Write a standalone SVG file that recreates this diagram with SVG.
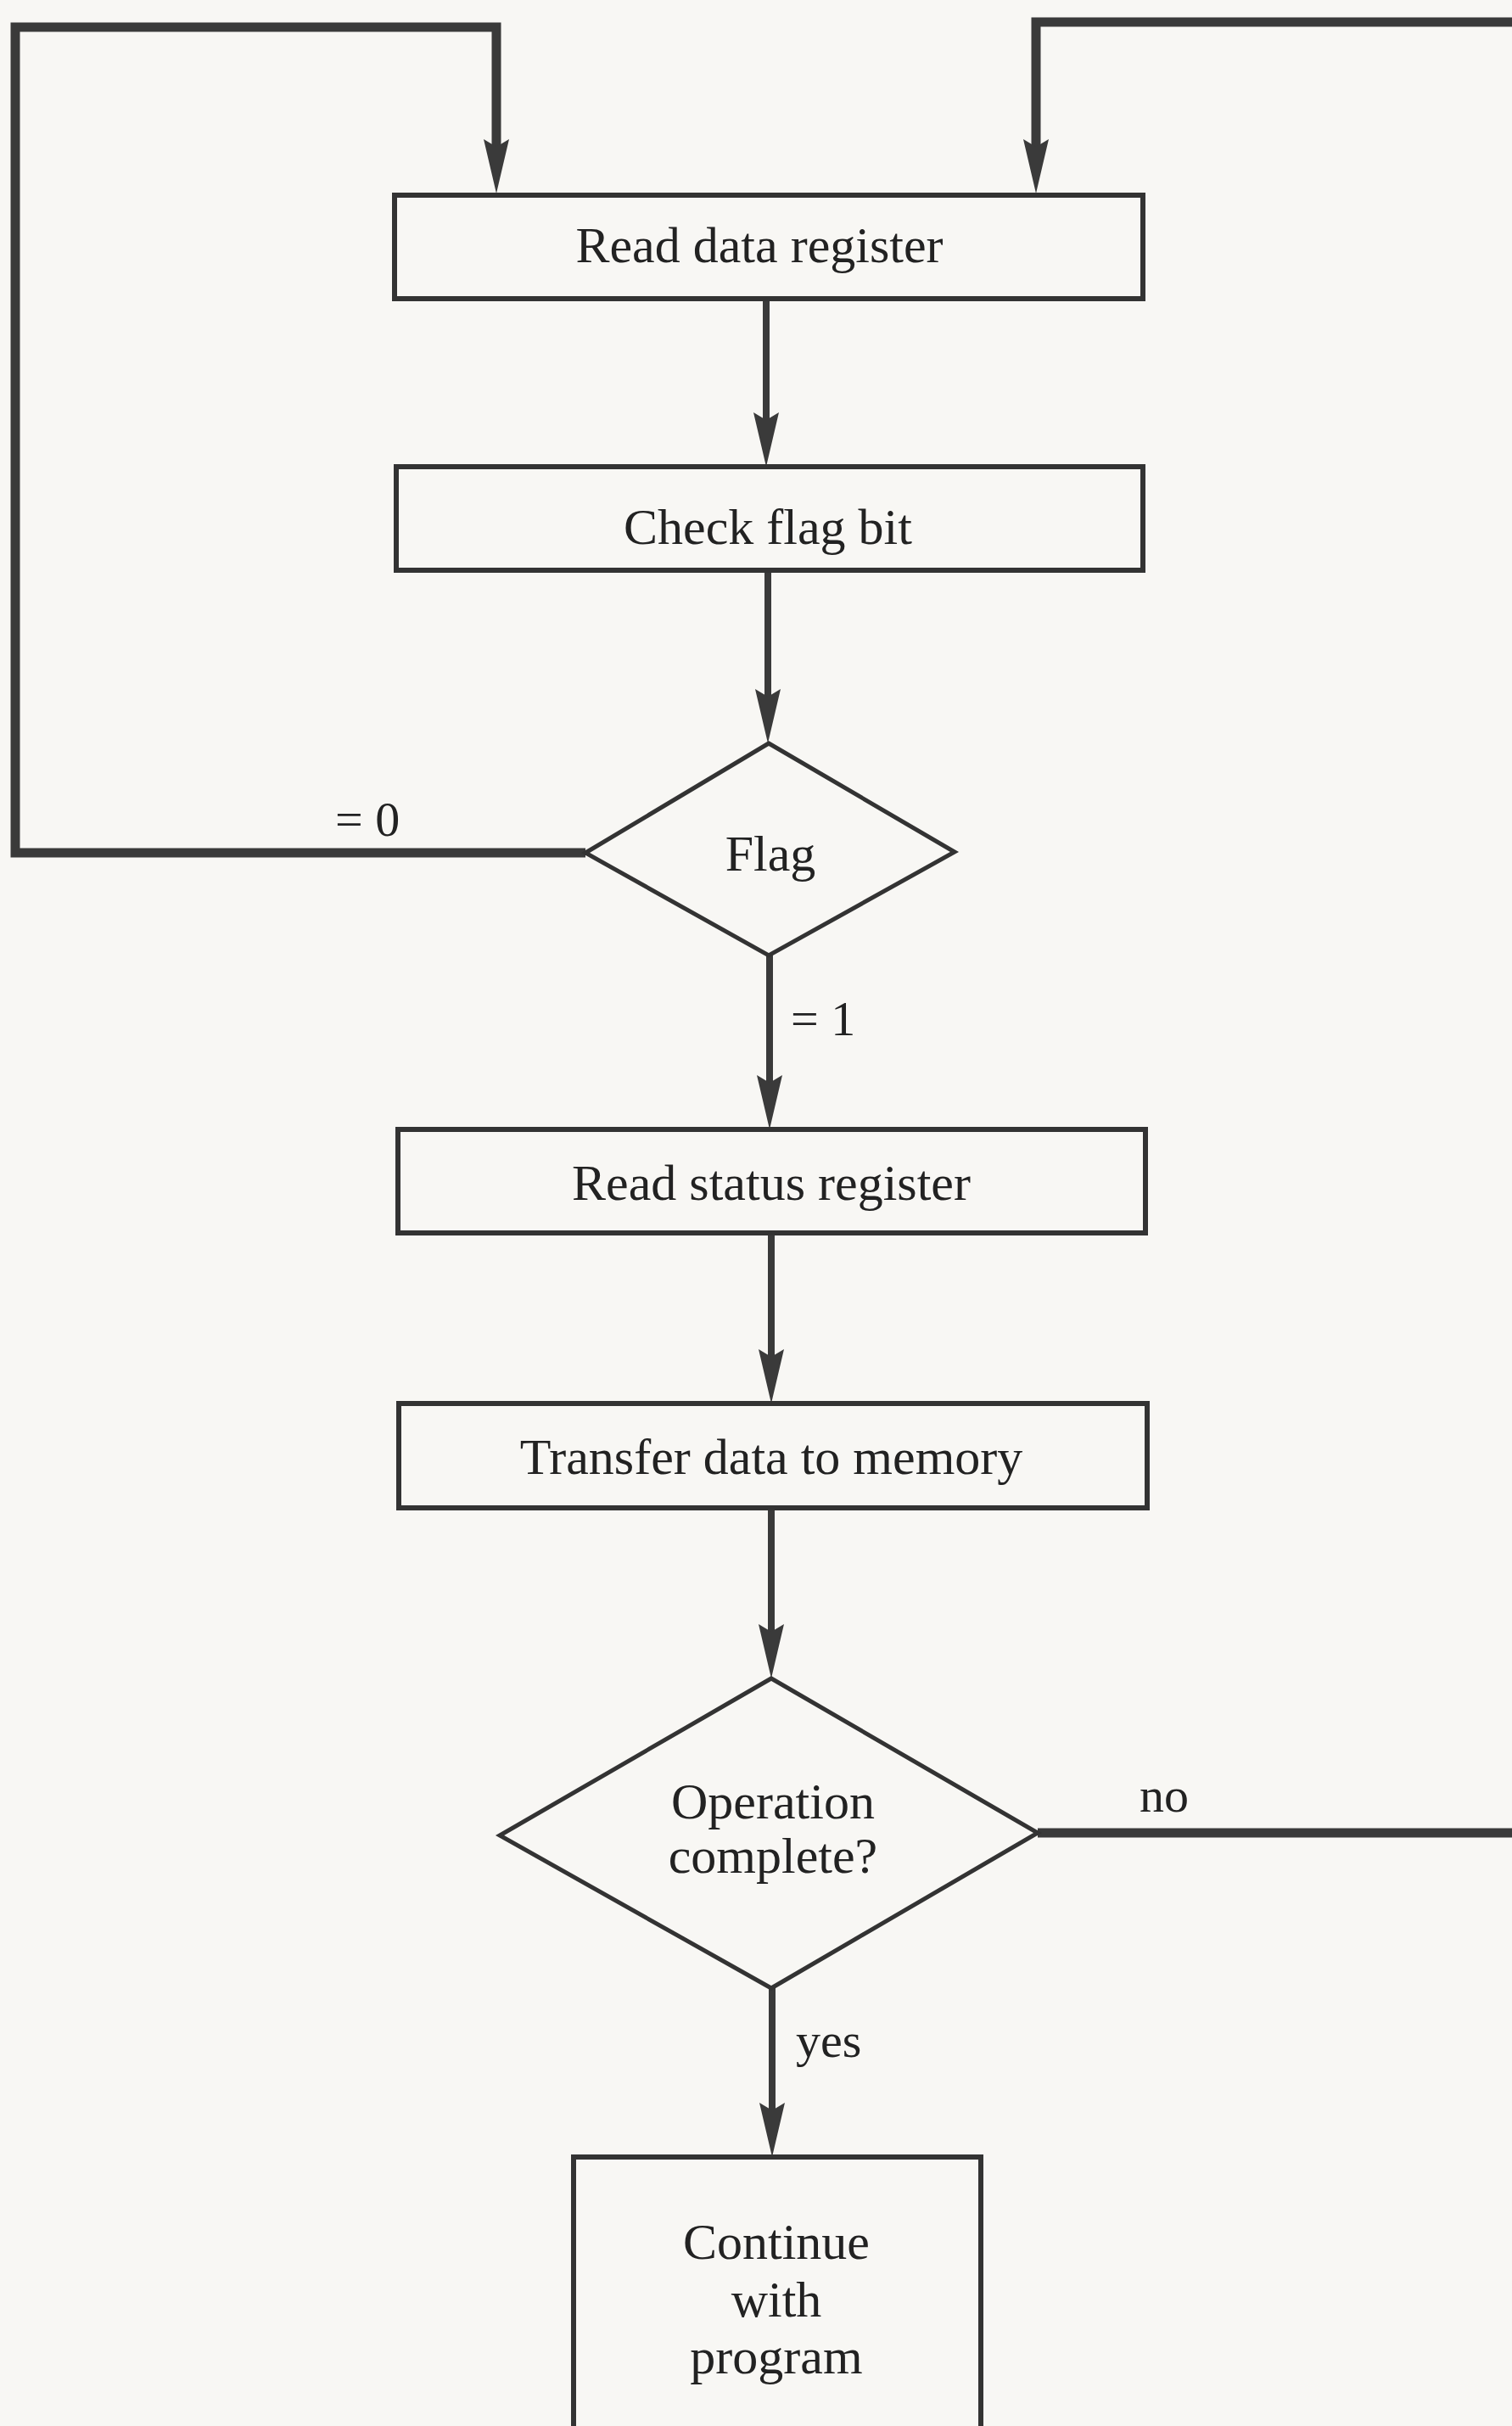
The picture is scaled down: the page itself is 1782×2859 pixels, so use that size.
<svg xmlns="http://www.w3.org/2000/svg" width="1782" height="2859" viewBox="0 0 1782 2859">
  <defs>
    <marker id="arrow" markerUnits="userSpaceOnUse" markerWidth="66" markerHeight="34" viewBox="0 0 66 34" refX="34" refY="17" orient="auto">
      <path d="M64,17 L0,2 L9,17 L0,32 Z" fill="#3a3a3a"/>
    </marker>
    <style>
      .box { fill: none; stroke: #333; stroke-width: 6; }
      .dia { fill: none; stroke: #333; stroke-width: 5; stroke-linejoin: miter; }
      .conn { fill: none; stroke: #3a3a3a; stroke-width: 8; }
      .loop { fill: none; stroke: #3a3a3a; stroke-width: 11; stroke-linejoin: miter; }
      .t { font-family: "Liberation Serif", "Times New Roman", serif; font-size: 60px; fill: #222; text-anchor: middle; }
      .lbl { font-family: "Liberation Serif", "Times New Roman", serif; font-size: 58px; fill: #222; }
    </style>
  </defs>
  <rect x="0" y="0" width="1782" height="2859" fill="#f8f7f4"/>

  <g id="connectors">
    <path class="loop" d="M690,1005 L18,1005 L18,32 L585,32 L585,198" marker-end="url(#arrow)"/>
    <path class="loop" d="M1800,26 L1221,26 L1221,198" marker-end="url(#arrow)"/>
    <path class="loop" d="M1223,2160 L1800,2160"/>
    <path class="conn" d="M903,352 L903,520" marker-end="url(#arrow)"/>
    <path class="conn" d="M905,672 L905,846" marker-end="url(#arrow)"/>
    <path class="conn" d="M907,1126 L907,1301" marker-end="url(#arrow)"/>
    <path class="conn" d="M909,1453 L909,1624" marker-end="url(#arrow)"/>
    <path class="conn" d="M909,1777 L909,1948" marker-end="url(#arrow)"/>
    <path class="conn" d="M910,2343 L910,2512" marker-end="url(#arrow)"/>
    <text class="lbl" x="395" y="985">= 0</text>
    <text class="lbl" x="932" y="1220">= 1</text>
    <text class="lbl" x="1343" y="2135">no</text>
    <text class="lbl" x="938" y="2424">yes</text>
  </g>

  <g id="read-data-register">
    <rect class="box" x="465" y="230" width="882" height="122"/>
    <text class="t" x="895" y="309">Read data register</text>
  </g>
  <g id="check-flag-bit">
    <rect class="box" x="467" y="550" width="880" height="122"/>
    <text class="t" x="905" y="641">Check flag bit</text>
  </g>
  <g id="flag">
    <polygon class="dia" points="906,876 1125,1004 906,1126 690,1005"/>
    <text class="t" x="908" y="1026">Flag</text>
  </g>
  <g id="read-status-register">
    <rect class="box" x="469" y="1331" width="881" height="122"/>
    <text class="t" x="909" y="1414">Read status register</text>
  </g>
  <g id="transfer-data">
    <rect class="box" x="470" y="1654" width="882" height="123"/>
    <text class="t" x="909" y="1737">Transfer data to memory</text>
  </g>
  <g id="operation-complete">
    <polygon class="dia" points="909,1978 1223,2160 909,2343 589,2163"/>
    <text class="t" x="911" y="2143">Operation</text>
    <text class="t" x="911" y="2207">complete?</text>
  </g>
  <g id="continue">
    <rect class="box" x="676" y="2542" width="480" height="360"/>
    <text class="t" x="915" y="2662">Continue</text>
    <text class="t" x="915" y="2730">with</text>
    <text class="t" x="915" y="2797">program</text>
  </g>
</svg>
